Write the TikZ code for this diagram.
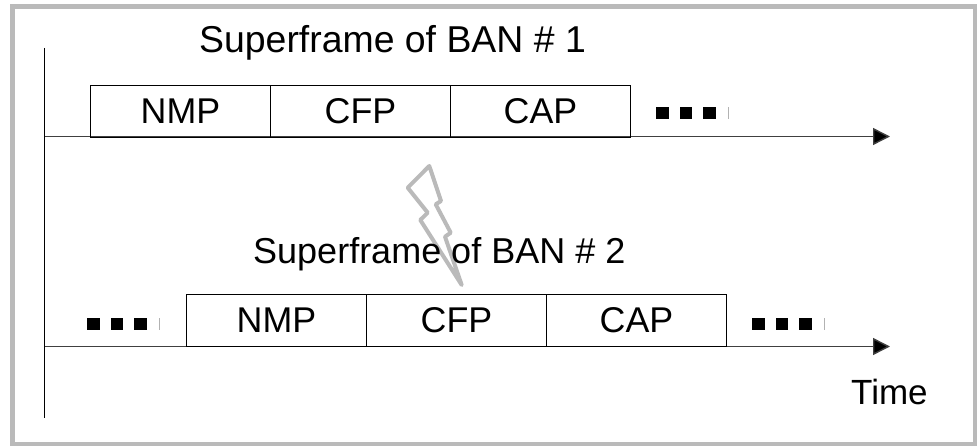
\documentclass[tikz,border=0pt]{standalone}
\usepackage{fontspec}
\setmainfont{Liberation Sans}
\usetikzlibrary{arrows.meta}
\tikzset{
  slotbox/.style={draw=black, line width=1.2pt, minimum width=180pt, minimum height=52pt, inner sep=0pt, font=\fontsize{35.8}{36}\selectfont},
  caption/.style={anchor=base west, inner sep=0pt, font=\fontsize{36}{36}\selectfont},
  axisline/.style={draw=black!75, line width=1.4pt, -{Triangle[length=17pt,width=17pt,fill=black]}},
  boltline/.style={draw=black!27, line width=4pt, line join=round}
}
\newcommand{\dotrun}[2]{
  \foreach \k in {0,1,2} \fill[black] (#1+\k*23.7,#2) rectangle (#1+\k*23.7+12.5,#2+12.5);
  \fill[black!30] (#1+71.5,#2) rectangle (#1+72.7,#2+12.5);
}
\begin{document}
\begin{tikzpicture}[x=1pt,y=-1pt]
\useasboundingbox (0,0) rectangle (977,446);
\draw[draw=black!27, line width=5pt] (12.5,6.5) rectangle (975,444);
% time axes
\coordinate (axistop) at (44.5,48);
\coordinate (axisbottom) at (44.5,418);
\coordinate (startone) at (44.5,136.5);
\coordinate (endone) at (890,136.5);
\coordinate (starttwo) at (44.5,346.5);
\coordinate (endtwo) at (890,346.5);
\draw[black, line width=1.2pt] (axistop) -- (axisbottom);
\draw[axisline] (startone) -- (endone);
\draw[axisline] (starttwo) -- (endtwo);
% first superframe
\foreach \n/\lab in {0/NMP,1/CFP,2/CAP} \node[slotbox] (one\lab) at (180.5+\n*180,111.5) {\lab};
% second superframe
\foreach \n/\lab in {0/NMP,1/CFP,2/CAP} \node[slotbox] (two\lab) at (276.5+\n*180,320.5) {\lab};
\dotrun{656}{107}
\dotrun{87}{317.5}
\dotrun{752}{317.5}
% interference
\draw[boltline] (429.3,166) -- (407.7,187.7) -- (427.7,212.7) -- (420.3,220) -- (461.7,285) -- (445,236.7) -- (450.7,232.7) -- (435.7,204.3) -- (441,201) -- cycle;
\node[caption, font=\fontsize{37.4}{38}\selectfont] (titleone) at (199,53) {Superframe of BAN \# 1};
\node[caption] (titletwo) at (253,264) {Superframe of BAN \# 2};
\node[caption, font=\fontsize{35}{35}\selectfont] (timelabel) at (851,404) {Time};
\end{tikzpicture}
\end{document}
